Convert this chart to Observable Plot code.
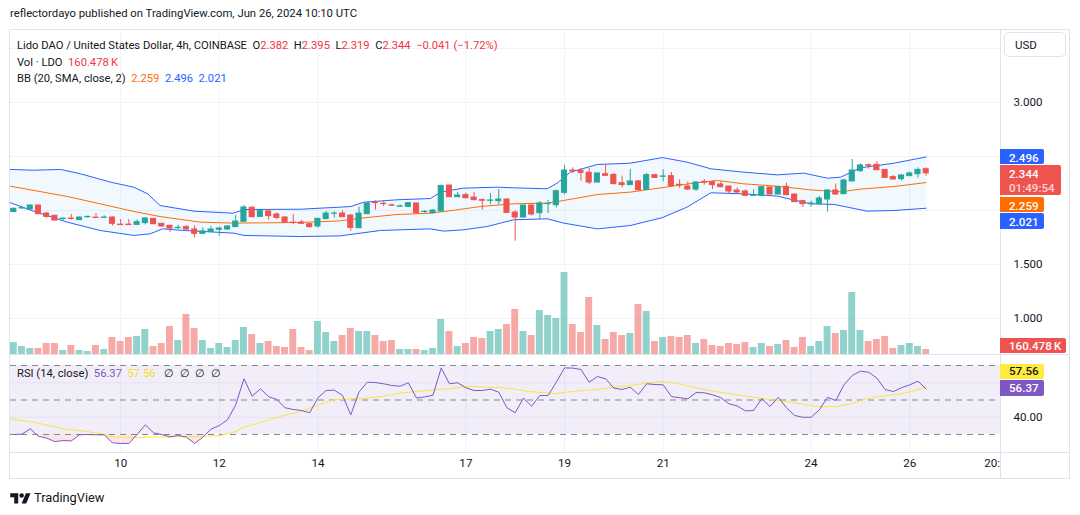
<!DOCTYPE html>
<html><head><meta charset="utf-8">
<script src="https://cdn.jsdelivr.net/npm/d3@7"></script>
<script src="https://cdn.jsdelivr.net/npm/@observablehq/plot@0.6"></script>
<style>
body{margin:0;background:#fff;font-family:Roboto,"Noto Sans",sans-serif;color:#131722}
#wrap{position:relative;width:1080px;height:515px;overflow:hidden;background:#fff}
.abs{position:absolute;white-space:nowrap;line-height:1}
.leg{font-size:11.2px}
.lbl{position:absolute;left:1000px;color:#fff;font-size:11.6px;font-weight:500;border-radius:0 2px 2px 0;box-sizing:border-box;padding-left:9px;white-space:nowrap}
</style></head><body><div id="wrap"></div>
<script>
// ---- data (4h candles, LDO/USD, Jun 7 20:00 -> Jun 26 08:00) ----
const openP=[1.985,2.019,2.009,2.046,1.972,1.951,1.921,1.926,1.911,1.938,1.934,1.932,1.935,1.869,1.869,1.867,1.883,1.923,1.877,1.858,1.837,1.846,1.824,1.784,1.802,1.821,1.824,1.846,1.895,2.025,1.941,1.991,1.963,1.935,1.888,1.889,1.873,1.852,1.920,1.970,1.972,1.954,1.836,1.966,2.072,2.062,2.047,2.035,2.034,2.065,1.986,1.975,1.991,2.231,2.123,2.142,2.120,2.096,2.090,2.086,2.102,1.981,1.935,2.046,1.975,2.059,2.049,2.164,2.370,2.367,2.349,2.259,2.336,2.330,2.253,2.235,2.269,2.191,2.327,2.312,2.318,2.238,2.222,2.194,2.265,2.262,2.241,2.222,2.185,2.176,2.136,2.136,2.213,2.148,2.219,2.148,2.086,2.059,2.059,2.102,2.185,2.151,2.269,2.364,2.419,2.423,2.376,2.309,2.290,2.318,2.336,2.382];
const highP=[2.022,2.040,2.052,2.049,1.982,1.954,1.929,1.963,1.938,1.948,1.972,1.951,1.941,1.917,1.917,1.914,1.935,1.926,1.880,1.864,1.864,1.861,1.858,1.839,1.852,1.846,1.858,1.954,2.046,2.037,2.000,2.006,1.978,1.944,1.963,1.907,1.877,1.926,1.991,1.988,1.997,1.957,2.031,2.071,2.090,2.083,2.062,2.052,2.071,2.068,2.000,2.006,2.234,2.234,2.167,2.160,2.167,2.108,2.157,2.194,2.105,1.997,2.049,2.052,2.083,2.093,2.188,2.417,2.395,2.389,2.389,2.346,2.417,2.340,2.318,2.380,2.278,2.343,2.333,2.377,2.352,2.284,2.265,2.269,2.287,2.272,2.265,2.225,2.210,2.191,2.191,2.222,2.216,2.225,2.253,2.151,2.093,2.086,2.130,2.194,2.244,2.290,2.472,2.432,2.432,2.451,2.379,2.324,2.333,2.355,2.395,2.395];
const lowP=[1.982,2.009,2.006,1.963,1.929,1.905,1.901,1.910,1.909,1.929,1.929,1.929,1.855,1.864,1.862,1.864,1.867,1.870,1.846,1.796,1.824,1.821,1.747,1.778,1.793,1.762,1.815,1.846,1.892,1.935,1.938,1.911,1.917,1.883,1.867,1.873,1.839,1.836,1.914,1.929,1.935,1.809,1.833,1.963,2.003,2.034,2.040,2.031,2.031,1.972,1.972,1.969,1.988,2.120,2.120,2.105,2.090,2.003,2.053,2.053,1.975,1.716,1.932,1.948,1.911,1.972,2.022,2.145,2.343,2.272,2.241,2.256,2.315,2.238,2.210,2.231,2.173,2.188,2.299,2.265,2.222,2.207,2.185,2.176,2.235,2.194,2.210,2.157,2.157,2.130,2.130,2.133,2.145,2.145,2.136,2.074,2.028,2.031,2.053,1.985,2.142,2.148,2.265,2.355,2.383,2.367,2.299,2.281,2.272,2.315,2.299,2.319];
const closeP=[2.016,2.022,2.046,1.966,1.941,1.907,1.925,1.922,1.935,1.941,1.931,1.935,1.877,1.865,1.865,1.892,1.926,1.873,1.852,1.833,1.840,1.824,1.784,1.806,1.824,1.833,1.852,1.898,2.028,1.938,1.994,1.948,1.932,1.889,1.885,1.877,1.846,1.923,1.972,1.972,1.938,1.839,1.972,2.065,2.068,2.059,2.044,2.038,2.068,1.975,1.988,2.000,2.228,2.123,2.139,2.114,2.096,2.090,2.093,2.102,1.978,1.935,2.046,1.963,2.065,2.062,2.179,2.370,2.364,2.349,2.259,2.343,2.321,2.244,2.235,2.269,2.188,2.327,2.302,2.315,2.225,2.235,2.194,2.259,2.259,2.235,2.216,2.176,2.167,2.136,2.139,2.216,2.148,2.216,2.142,2.077,2.059,2.065,2.111,2.185,2.148,2.278,2.370,2.417,2.414,2.373,2.302,2.287,2.324,2.343,2.376,2.344];
const volK=[385,257,193,193,353,353,128,289,128,96,289,161,546,417,546,578,803,257,353,899,449,1284,835,449,193,353,225,449,867,642,353,417,257,225,803,225,128,1059,706,417,610,835,738,738,610,417,449,161,161,161,128,193,1124,738,257,353,546,514,738,803,963,1445,738,610,1412,1252,1156,2632,963,706,1830,931,482,706,610,674,1605,1380,417,546,578,546,610,353,482,289,257,353,321,385,225,353,257,321,449,225,546,257,417,899,674,770,1990,770,417,482,578,193,289,353,257,160.478];
// Bollinger Bands (20, SMA, close, 2) read at candle positions
const bbUpX=[0.6,3.4,6.7,9.1,12.8,15.6,17.3,18.8,22.9,27.7,29,35.9,40.7,42.0,43.6,47.6,51.7,52.9,55.7,59.8,61.8,65.9,67.1,68.7,72,76,79.9,82.9,85.8,89.8,93.9,97.1,100,101.6,104,108.1,112];
const bbUp=[2.380,2.373,2.380,2.340,2.262,2.216,2.154,2.046,1.994,1.975,2.009,2.012,2.031,2.037,2.077,2.099,2.111,2.170,2.207,2.216,2.210,2.201,2.253,2.355,2.426,2.438,2.490,2.448,2.386,2.355,2.330,2.346,2.299,2.309,2.395,2.438,2.496];
const bbMidX=[0.6,7.5,11.5,15.6,18.8,23.7,27.8,35.9,40.7,43.6,47.6,51.7,53.7,57.8,61.8,65.9,67.9,72,76,80.3,83.7,86.6,89.8,93.9,97.9,101.6,104,108.1,112];
const bbMid=[2.225,2.130,2.062,1.991,1.944,1.892,1.883,1.889,1.904,1.932,1.963,1.975,1.994,2.037,2.062,2.068,2.093,2.148,2.170,2.216,2.253,2.278,2.247,2.225,2.191,2.173,2.198,2.222,2.259];
const bbLowX=[0.6,3.4,7.5,11.5,15.6,17.6,19.1,21.7,27.8,29,35.9,40.7,45.6,51.7,53.3,55.7,58.6,61.8,65.9,67.9,72,76,79.9,82.9,85.8,89.8,93.9,97.9,100.8,104.8,108.1,112];
const bbLow=[2.071,1.994,1.892,1.815,1.769,1.784,1.830,1.815,1.790,1.769,1.759,1.765,1.815,1.830,1.809,1.821,1.852,1.914,1.923,1.883,1.830,1.861,1.934,2.031,2.164,2.154,2.133,2.062,2.056,1.994,2.000,2.021];
// RSI (14, close) per candle, and its moving average
const rsi=[30.0,30.2,33.3,29.0,27.9,25.9,26.5,26.3,29.8,30.0,29.8,29.8,25.2,24.8,24.8,30.0,35.6,31.0,30.0,28.6,29.4,28.5,24.8,28.5,33.1,35.2,38.5,47.2,62.3,52.2,56.5,52.0,50.3,45.5,44.5,43.9,42.6,51.3,55.5,55.7,52.6,41.4,54.7,60.3,60.1,59.4,58.4,58.0,60.0,51.1,51.8,52.8,68.6,59.4,60.0,57.1,55.5,55.5,56.3,54.5,45.5,42.6,51.1,46.4,52.6,52.6,60.3,68.6,68.5,67.7,60.3,63.6,62.3,56.9,56.1,57.4,53.2,59.4,59.0,58.8,52.0,51.3,50.7,54.3,54.2,53.0,51.4,47.8,46.6,43.7,43.9,50.7,46.2,51.6,45.5,41.0,40.0,40.0,44.3,51.6,49.7,58.8,64.2,66.7,66.1,62.7,56.1,54.9,57.1,58.8,60.9,56.37];
const rsiMaX=[0.6,3.4,7.1,9.9,11.9,13,15.6,19.6,23.7,26.1,27.8,29,31.8,33.8,35.9,37.9,39.9,41.9,44,46,48,50,52.1,54.1,56.1,58.2,60.2,61.7,63.6,65.8,67,68.1,70.4,72.7,75,77.3,79.6,80.9,82.8,84.6,86.4,88.7,91,93.3,95.6,97.8,99.2,101.1,102.9,104.7,106.5,108.4,110.2,112];
const rsiMa=[39.1,37.1,33.3,31.7,30.2,28.6,28.3,28.6,28.8,29.4,31.4,34.2,38.1,41.0,43.3,46.8,50.1,50.7,51.1,52.2,54.0,54.9,55.9,56.5,58.0,57.6,57.2,56.5,54.9,54.2,53.6,54.5,55.5,56.5,58.0,59.2,60.7,60.3,58.4,56.5,54.9,53.2,51.6,50.1,48.7,46.8,46.2,46.2,47.8,50.7,52.2,53.2,54.9,57.56];
// axes
const tickIdx=[14,26,38,56,68,80,98,110];
const tickLabels=["10","12","14","17","19","21","24","26"];
const edgeTickIdx=[121];
const edgeTickLabels=["20:"];
const priceGrid=[1.0,1.5,2.0,2.5,3.0,3.5];
const priceTicks=[1.0,1.5,3.0];
const rsiGrid=[40,60];
const rsiDashed=[30,50,70];
const rsiTicks=[40];

// ---- drawing ----
const W=1080,H=515,G="#26a69a",R="#ef5350",FONT="Roboto, 'Noto Sans', sans-serif";
const wrap=document.getElementById("wrap");
const xOpt={type:"linear",domain:[0.6,121.04],range:[10,1000],axis:null};
const candles=openP.map((o,k)=>({i:k+1,o,h:highP[k],l:lowP[k],c:closeP[k],v:volK[k],up:closeP[k]>=o}));
const pts=(xs,ys)=>xs.map((x,k)=>({x,y:ys[k]}));
const bbPoly=[...pts(bbUpX,bbUp),...pts(bbLowX,bbLow).reverse()];
const baseStyle={background:"transparent",overflow:"visible",fontFamily:FONT,color:"#131722"};

const main=Plot.plot({
  width:W,height:H,marginTop:29,marginBottom:H-354,marginLeft:10,marginRight:80,
  x:xOpt,y:{domain:[1,3],range:[318,102],axis:null},color:{type:"identity"},style:baseStyle,
  marks:[
    Plot.ruleY(priceGrid,{stroke:"#f0f3fa"}),
    Plot.ruleX(tickIdx,{stroke:"#f0f3fa"}),
    Plot.line(bbPoly,{x:"x",y:"y",fill:"rgba(33,150,243,0.06)",stroke:"none",curve:"linear"}),
    Plot.line(pts(bbUpX,bbUp),{x:"x",y:"y",stroke:"#2962ff",strokeWidth:1}),
    Plot.line(pts(bbLowX,bbLow),{x:"x",y:"y",stroke:"#2962ff",strokeWidth:1}),
    Plot.line(pts(bbMidX,bbMid),{x:"x",y:"y",stroke:"#ff6d00",strokeWidth:1}),
    Plot.ruleX(candles,{x:"i",y1:"l",y2:"h",stroke:d=>d.up?G:R,strokeWidth:1}),
    Plot.rect(candles,{x1:d=>d.i-0.31,x2:d=>d.i+0.31,y1:"o",y2:"c",fill:d=>d.up?G:R,stroke:d=>d.up?G:R,strokeWidth:1}),
    Plot.text(priceTicks,{y:d=>d,text:d=>d.toFixed(3),frameAnchor:"right",dx:13,textAnchor:"start",fontSize:11.6,fill:"#131722"})
  ]
});
const vol=Plot.plot({
  width:W,height:H,marginTop:29,marginBottom:H-354,marginLeft:10,marginRight:80,
  x:xOpt,y:{domain:[0,3210],range:[354,254],axis:null},color:{type:"identity"},style:baseStyle,
  marks:[
    Plot.rect(candles,{x1:d=>d.i-0.42,x2:d=>d.i+0.42,y1:0,y2:"v",fill:d=>d.up?"rgba(38,166,154,0.5)":"rgba(239,83,80,0.5)"})
  ]
});
const rsiPts=rsi.map((v,k)=>({x:k+1,y:v}));
// oversold fill (between RSI and 30, only below the 30 line)
const oversold=Plot.plot({
  width:W,height:H,marginTop:434,marginBottom:H-452,marginLeft:10,marginRight:80,
  x:xOpt,y:{domain:[30,70],range:[434,365],axis:null},style:baseStyle,
  marks:[Plot.areaY(rsiPts,{x:"x",y1:30,y2:"y",fill:"rgba(242,54,69,0.13)",clip:true})]
});
const rsiPlot=Plot.plot({
  width:W,height:H,marginTop:355,marginBottom:H-452,marginLeft:10,marginRight:80,
  x:xOpt,y:{domain:[30,70],range:[434,365],axis:null},style:baseStyle,
  marks:[
    Plot.ruleX(tickIdx,{stroke:"#f0f3fa"}),
    Plot.rect([0],{x1:0.6,x2:121.04,y1:30,y2:70,fill:"rgba(126,87,194,0.1)"}),
    Plot.ruleY(rsiGrid,{stroke:"rgba(120,100,180,0.10)"}),
    Plot.ruleY(rsiDashed,{stroke:"#787b86",strokeDasharray:"6,5",strokeOpacity:0.9}),
    Plot.line(pts(rsiMaX,rsiMa),{x:"x",y:"y",stroke:"#fbe53b",strokeWidth:1}),
    Plot.line(rsiPts,{x:"x",y:"y",stroke:"#7e57c2",strokeWidth:1}),
    Plot.text(rsiTicks,{y:d=>d,text:d=>d.toFixed(2),frameAnchor:"right",dx:13,textAnchor:"start",fontSize:11.6,fill:"#131722"}),
    Plot.text(tickIdx,{x:d=>d,text:(d,k)=>tickLabels[k],frameAnchor:"bottom",dy:14,fontSize:11.6,fill:"#131722"}),
    Plot.text(edgeTickIdx,{x:d=>d,text:(d,k)=>edgeTickLabels[k],frameAnchor:"bottom",dy:14,textAnchor:"end",fontSize:11.6,fill:"#131722"})
  ]
});
for(const p of [main,oversold,rsiPlot,vol]){p.style.position="absolute";p.style.left="0";p.style.top="0";wrap.appendChild(p);}

// ---- frame lines ----
function div(css,html=""){const d=document.createElement("div");d.className="abs";d.style.cssText+=css;d.innerHTML=html;wrap.appendChild(d);return d;}
div("left:9px;top:29px;width:1061px;height:450px;border:1px solid #e0e3eb;box-sizing:border-box;");
div("left:1000px;top:29px;width:1px;height:450px;background:#e0e3eb;");
div("left:9px;top:354px;width:1061px;height:1px;background:#e0e3eb;");
div("left:9px;top:452px;width:1061px;height:1px;background:#e0e3eb;");
div("left:1004px;top:32px;width:62px;height:25px;border:1px solid #e0e3eb;border-radius:5px;box-sizing:border-box;font-size:11.5px;padding:7px 0 0 10px;","USD");

// ---- texts ----
div("left:10px;top:8px;font-size:11.3px;color:#131722;","reflectordayo published on TradingView.com, Jun 26, 2024 10:10 UTC");
const red="#f23645";
const sp="&nbsp;&nbsp;";
div("left:17px;top:36px;","<span class='leg'>Lido DAO / United States Dollar, 4h, COINBASE"+sp+"O<span style='color:"+red+"'>2.382</span>"+sp+"H<span style='color:"+red+"'>2.395</span>"+sp+"L<span style='color:"+red+"'>2.319</span>"+sp+"C<span style='color:"+red+"'>2.344</span>"+sp+"<span style='color:"+red+"'>−0.041 (−1.72%)</span></span>");
div("left:17px;top:53px;","<span class='leg'>Vol · LDO"+sp+"<span style='color:"+red+"'>160.478&#8201;K</span></span>");
div("left:17px;top:69px;","<span class='leg'>BB (20, SMA, close, 2)"+sp+"<span style='color:#ff6d00'>2.259</span>"+sp+"<span style='color:#2962ff'>2.496</span>"+sp+"<span style='color:#2962ff'>2.021</span></span>");
div("left:17px;top:364px;","<span class='leg'>RSI (14, close)"+sp+"<span style='color:#7e57c2'>56.37</span>"+sp+"<span style='color:#f5dc2a'>57.56</span>"+sp+"&nbsp;∅"+sp+"∅"+sp+"∅"+sp+"∅</span>");

// ---- price-scale value labels (positioned via the plot scales) ----
const ys=main.scale("y"), yv=vol.scale("y"), yr=rsiPlot.scale("y");
const ap=(s,v)=>s.apply?s.apply(v):d3.scaleLinear(s.domain,s.range)(v);
function lbl(top,w,h,bg,html,color){const d=document.createElement("div");d.className="lbl";d.style.cssText+=`top:${top}px;width:${w}px;height:${h}px;background:${bg};${color?"color:"+color+";":""}`;d.innerHTML=html;wrap.appendChild(d);return d;}
const stack=[{v:2.496,w:44,h:15,bg:"#2962ff",t:"2.496"},{v:2.344,w:61,h:30,bg:R,t:"2.344<br><span style='opacity:.75'>01:49:54</span>",two:true},{v:2.259,w:44,h:15,bg:"#ff6d00",t:"2.259"},{v:2.021,w:44,h:16,bg:"#2962ff",t:"2.021"}];
let prev=-1e9;
for(const s of stack){let top=ap(ys,s.v)-(s.two?7.5:s.h/2);top=Math.max(top,prev+1.5);const d=lbl(top,s.w,s.h,s.bg,s.t);d.style.paddingTop="2px";d.style.lineHeight="14px";prev=top+s.h;}
{const top=Math.min(ap(yv,160.478)-7.5,338);const d=lbl(top,66,15,R,"160.478&#8201;K");d.style.paddingTop="1px";d.style.lineHeight="14px";}
{const t2=ap(yr,56.37)-8.5;const d2=lbl(t2,44,16,"#7e57c2","56.37");d2.style.lineHeight="16px";
 const d1=lbl(t2-16.5,44,15,"#ffeb3b","57.56","#131722");d1.style.lineHeight="15px";}

// ---- footer ----
div("left:10px;top:490px;","<svg width='21' height='16' viewBox='0 0 36 28' style='vertical-align:middle'><path fill='#131722' d='M14 22H7V11H0V4h14v18zM28 22h-8l7.5-18h8L28 22z'/><circle fill='#131722' cx='20' cy='8' r='4'/></svg><span style='font-size:12.8px;vertical-align:middle;margin-left:3px;color:#131722'>TradingView</span>");
</script></body></html>
